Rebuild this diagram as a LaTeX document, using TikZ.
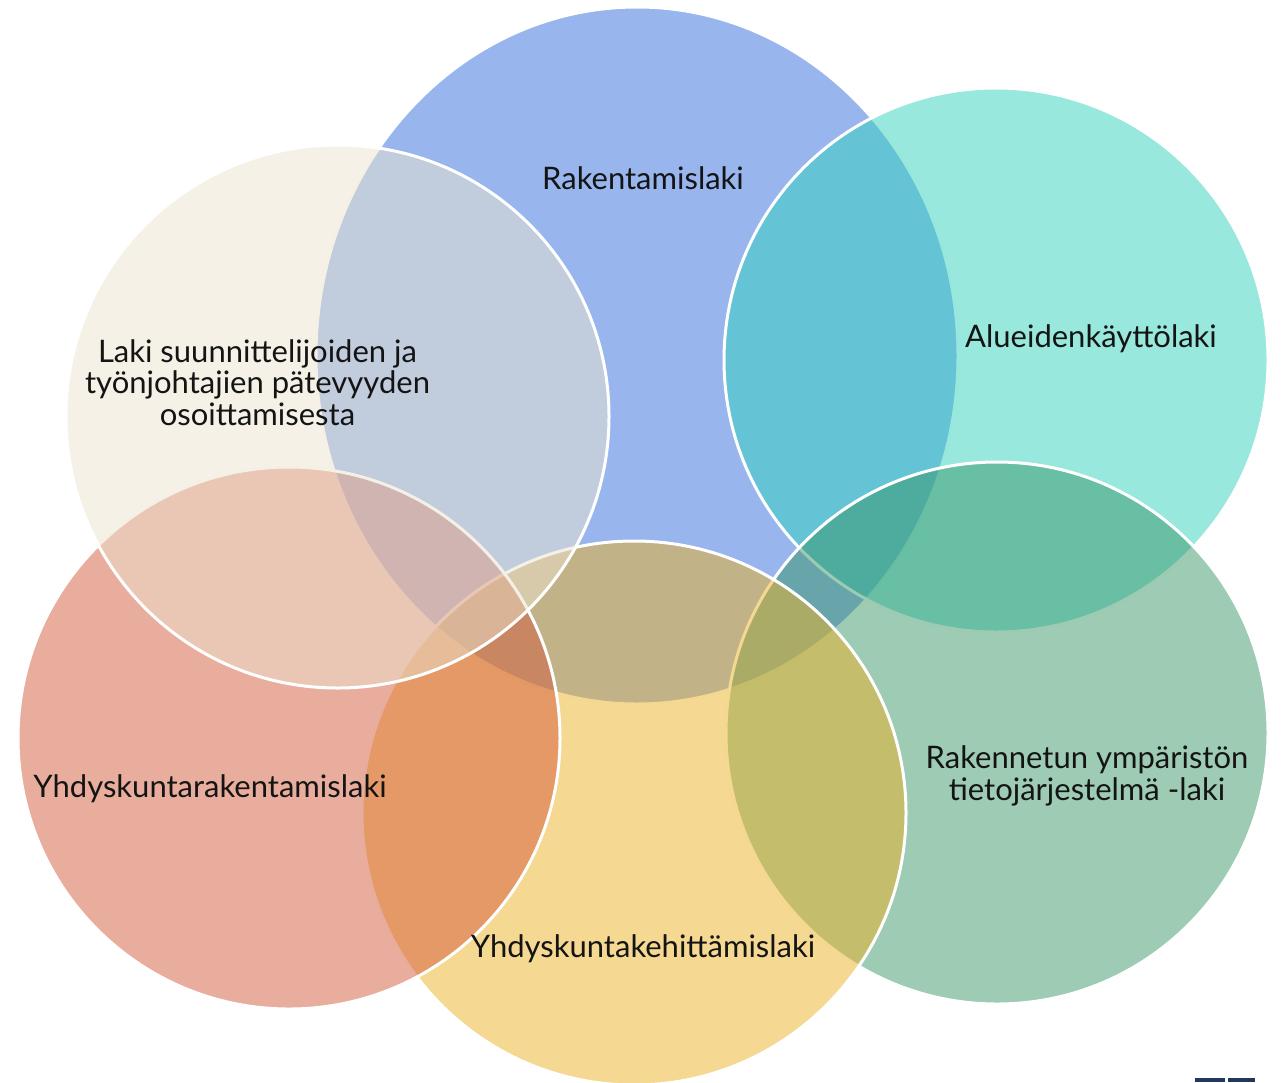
\documentclass[tikz,border=0pt]{standalone}
\usepackage{fontspec}
\setmainfont{Lato}
\definecolor{cblue}{RGB}{49,107,221}
\definecolor{cteal}{RGB}{49,209,189}
\definecolor{cgreen}{RGB}{59,151,105}
\definecolor{cyellow}{RGB}{235,177,35}
\definecolor{csalmon}{RGB}{211,91,61}
\definecolor{cbeige}{RGB}{235,227,205}
\definecolor{navy}{RGB}{31,56,92}
\definecolor{txt}{RGB}{20,20,20}
\tikzset{
  venn/.style={fill=#1, fill opacity=0.5, draw=white, line width=3pt},
  lbl/.style={text=txt, anchor=base, font=\fontsize{31}{32}\selectfont, inner sep=0pt},
}
\begin{document}
\begin{tikzpicture}[x=1pt,y=-1pt]
\useasboundingbox (0,0) rectangle (1281,1082);
\path[venn=cblue] (637,355.5) ellipse [x radius=321, y radius=348.5];
\path[venn=cteal] (996,360) circle [radius=272];
\path[venn=cgreen] (997,733) circle [radius=271];
\path[venn=cyellow] (634,813) circle [radius=272];
\path[venn=csalmon] (289,738) circle [radius=271];
\path[venn=cbeige] (337.5,416.5) circle [radius=271.5];
\node[lbl] (rak) at (643,189) {Rakentamislaki};
\node[lbl] (alu) at (1091,347) {Alueidenkäyttölaki};
\node[lbl] (lakiA) at (257.5,362) {Laki suunnittelijoiden ja};
\node[lbl] (lakiB) at (257.5,393.5) {työnjohtajien pätevyyden};
\node[lbl] (lakiC) at (257.5,425) {osoittamisesta};
\node[lbl] (yra) at (210,797) {Yhdyskuntarakentamislaki};
\node[lbl] (yke) at (643,957) {Yhdyskuntakehittämislaki};
\node[lbl] (rymA) at (1087,768) {Rakennetun ympäristön};
\node[lbl] (rymB) at (1087,800.5) {tietojärjestelmä -laki};
\fill[navy] (1195,1078) rectangle (1225,1082);
\fill[navy] (1228,1078) rectangle (1255,1082);
\end{tikzpicture}
\end{document}
